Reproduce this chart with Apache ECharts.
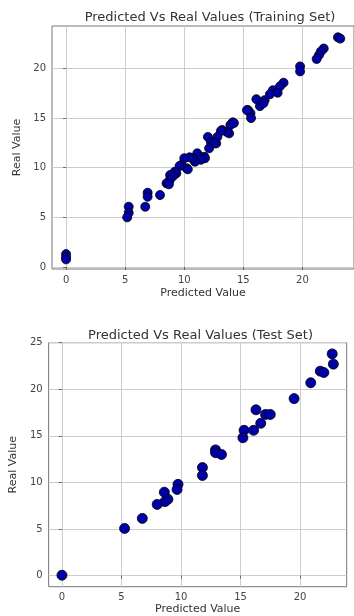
<!DOCTYPE html>
<html>
<head>
<meta charset="utf-8">
<script src="https://cdn.jsdelivr.net/npm/echarts@6/dist/echarts.min.js"></script>
<style>html,body{margin:0;padding:0;background:#fff}#c{width:354px;height:616px}</style>
</head>
<body>
<div id="c"></div>
<script>
// Training set: predicted (x) and real (y)
var trainPred = [23.0, 23.2, 21.8, 21.56, 21.4, 21.2, 19.8, 19.8, 18.4, 18.1, 17.5, 17.9, 17.25, 16.8, 16.1, 16.4, 16.7, 15.4, 15.6, 15.65, 15.3, 14.1, 13.9, 14.2, 13.8, 13.6, 13.2, 13.1, 12.8, 12.0, 12.25, 12.7, 12.5, 12.1, 11.7, 11.1, 11.3, 11.75, 11.4, 10.9, 10.7, 10.45, 10.0, 10.2, 10.3, 9.75, 9.6, 9.33, 9.2, 9.06, 8.8, 8.78, 8.5, 8.7, 7.95, 6.9, 6.9, 6.7, 5.3, 5.3, 5.17, 0, 0, 0];
var trainReal = [23.13, 23.0, 22.0, 21.7, 21.35, 20.95, 20.2, 19.7, 18.56, 18.2, 17.8, 17.55, 17.4, 16.8, 16.9, 16.2, 16.5, 15.8, 15.5, 15.0, 15.8, 14.57, 14.3, 14.5, 13.46, 13.6, 13.8, 13.7, 13.1, 13.1, 12.6, 12.45, 12.45, 11.95, 11.1, 11.45, 11.1, 10.95, 10.8, 10.6, 10.95, 11.05, 10.95, 9.94, 9.84, 10.27, 10.17, 9.43, 9.6, 9.16, 9.26, 8.76, 8.43, 8.33, 7.25, 7.48, 7.08, 6.07, 6.07, 5.47, 5.0, 1.3, 0.98, 0.77];
// Test set
var testPred = [22.7, 22.8, 21.7, 22.0, 20.9, 19.5, 16.3, 17.1, 17.5, 16.7, 16.1, 15.3, 15.2, 12.9, 12.9, 13.4, 11.8, 11.8, 9.75, 9.67, 8.6, 8.9, 8.65, 8.0, 6.75, 5.26, 0];
var testReal = [23.8, 22.7, 21.95, 21.8, 20.7, 19.0, 17.8, 17.3, 17.3, 16.35, 15.6, 15.6, 14.8, 13.5, 13.2, 13.0, 11.6, 10.75, 9.8, 9.25, 8.96, 8.2, 7.95, 7.65, 6.15, 5.07, 0.05];
var xTicks = [0, 5, 10, 15, 20];
var trainYTicks = [0, 5, 10, 15, 20];
var testYTicks = [0, 5, 10, 15, 20, 25];
var titles = ['Predicted Vs Real Values (Training Set)', 'Predicted Vs Real Values (Test Set)'];
var xName = 'Predicted Value';
var yName = 'Real Value';

function pairs(a, b) { return a.map(function (v, i) { return [v, b[i]]; }); }

var FONT = 'DejaVu Sans';
var grid0 = { left: 52, right: -4.6, top: 26, height: 243 };
var grid1 = { left: 44.3, right: 7.3, top: 342.7, height: 244 };

function xAxis(gi, min, max, gap) {
  return {
    type: 'value', gridIndex: gi, min: min, max: max, interval: 5,
    name: xName, nameLocation: 'middle', nameGap: gap,
    nameTextStyle: { fontFamily: FONT, fontSize: 11, color: '#333' },
    axisLine: { show: false },
    axisTick: { show: true, length: 3, lineStyle: { color: '#666' },
      customValues: xTicks },
    axisLabel: { fontFamily: FONT, fontSize: 10, color: '#444', margin: 6,
      customValues: xTicks, showMinLabel: true, showMaxLabel: true },
    splitLine: { show: true, lineStyle: { color: '#cccccc', width: 1 } }
  };
}
function yAxis(gi, min, max, gap, ticks) {
  return {
    type: 'value', gridIndex: gi, min: min, max: max, interval: 5,
    name: yName, nameLocation: 'middle', nameGap: gap,
    nameTextStyle: { fontFamily: FONT, fontSize: 11, color: '#333' },
    axisLine: { show: false },
    axisTick: { show: true, length: 3, lineStyle: { color: '#666' }, customValues: ticks },
    axisLabel: { fontFamily: FONT, fontSize: 10, color: '#444', margin: 6, customValues: ticks },
    splitLine: { show: true, lineStyle: { color: '#cccccc', width: 1 } }
  };
}

var chart = echarts.init(document.getElementById('c'), null, { renderer: 'canvas' });
chart.setOption({
  backgroundColor: '#fff',
  animation: false,
  title: [
    { text: titles[0], left: 205, top: 6, textAlign: 'center',
      textStyle: { fontFamily: FONT, fontSize: 13, fontWeight: 'normal', color: '#333' } },
    { text: titles[1], left: 195.5, top: 324, textAlign: 'center',
      textStyle: { fontFamily: FONT, fontSize: 13, fontWeight: 'normal', color: '#333' } }
  ],
  grid: [
    Object.assign({ show: true, borderColor: '#777', borderWidth: 1, backgroundColor: 'transparent' }, grid0),
    Object.assign({ show: true, borderColor: '#777', borderWidth: 1, backgroundColor: 'transparent' }, grid1)
  ],
  xAxis: [xAxis(0, -1.19, 24.36, 19), xAxis(1, -1.12, 23.92, 17)],
  yAxis: [yAxis(0, -0.2, 24.27, 20, trainYTicks), yAxis(1, -1.18, 25, 23, testYTicks)],
  series: [
    { type: 'scatter', xAxisIndex: 0, yAxisIndex: 0, data: pairs(trainPred, trainReal),
      symbolSize: 9, itemStyle: { color: '#0000a8', borderColor: '#000', borderWidth: 0.8, opacity: 1 } },
    { type: 'scatter', xAxisIndex: 1, yAxisIndex: 1, data: pairs(testPred, testReal),
      symbolSize: 10, itemStyle: { color: '#0000a8', borderColor: '#000', borderWidth: 0.8, opacity: 1 } }
  ]
});
</script>
</body>
</html>
